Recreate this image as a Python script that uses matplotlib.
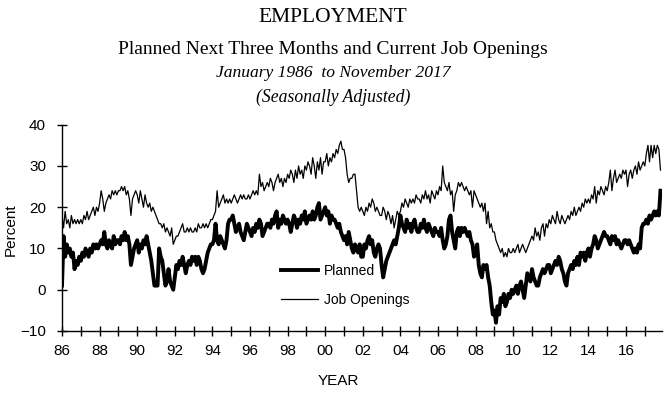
#
# EMPLOYMENT: planned hiring next three months and current job openings,
# monthly, January 1986 to November 2017 (seasonally adjusted).
#

import matplotlib
matplotlib.use('Agg')
import matplotlib.pyplot as plt
import numpy as np
import pandas as pd


#######################################################################

# Monthly values (percent), one row per year.

planned_rows = [
    [1, 13, 8, 11, 9, 10, 8, 9, 5, 7, 6, 8],             # 1986
    [7, 9, 8, 10, 9, 8, 10, 9, 11, 10, 11, 10],          # 1987
    [11, 12, 11, 14, 11, 10, 12, 11, 10, 13, 11, 12],    # 1988
    [12, 11, 13, 12, 14, 12, 13, 11, 6, 8, 10, 11],      # 1989
    [12, 9, 11, 10, 12, 11, 13, 11, 9, 7, 4, 1],         # 1990
    [1, 1, 10, 8, 7, 4, 1, 2, 5, 2, 1, 0],               # 1991
    [3, 6, 5, 7, 6, 8, 6, 4, 6, 7, 6, 8],                # 1992
    [7, 8, 6, 8, 7, 5, 4, 5, 7, 9, 10, 11],              # 1993
    [11, 12, 16, 12, 11, 13, 12, 11, 10, 12, 16, 17],    # 1994
    [17, 18, 16, 14, 15, 16, 14, 13, 12, 14, 16, 15],    # 1995
    [14, 13, 15, 14, 16, 15, 17, 16, 13, 14, 15, 16],    # 1996
    [16, 15, 17, 16, 18, 19, 15, 17, 16, 18, 17, 16],    # 1997
    [17, 16, 14, 16, 18, 17, 15, 17, 16, 18, 17, 19],    # 1998
    [16, 17, 18, 17, 19, 17, 18, 20, 21, 17, 18, 19],    # 1999
    [20, 18, 19, 16, 18, 17, 17, 16, 15, 16, 14, 13],    # 2000
    [12, 13, 11, 14, 12, 10, 9, 11, 10, 9, 11, 8],       # 2001
    [8, 11, 10, 12, 13, 11, 12, 9, 8, 10, 11, 10],       # 2002
    [6, 3, 5, 7, 8, 9, 10, 11, 12, 11, 13, 15],          # 2003
    [18, 16, 15, 14, 17, 15, 16, 14, 16, 17, 15, 14],    # 2004
    [14, 16, 15, 17, 15, 14, 16, 15, 14, 13, 15, 14],    # 2005
    [14, 13, 15, 12, 10, 11, 13, 17, 18, 14, 12, 10],    # 2006
    [14, 15, 13, 15, 14, 15, 14, 13, 14, 12, 11, 8],     # 2007
    [9, 11, 6, 4, 3, 6, 5, 6, 3, 1, -3, -6],             # 2008
    [-5, -8, -4, -6, -2, -3, -1, -4, -3, -1, -2, 0],     # 2009
    [-1, 0, 1, -1, 1, 2, 0, -2, 1, 4, 3, 2],             # 2010
    [5, 3, 2, 1, 1, 3, 4, 5, 4, 5, 6, 6],                # 2011
    [4, 5, 6, 7, 6, 8, 7, 5, 4, 2, 1, 4],                # 2012
    [5, 6, 5, 7, 6, 8, 6, 9, 8, 9, 7, 9],                # 2013
    [10, 8, 10, 11, 13, 12, 10, 11, 12, 13, 14, 13],     # 2014
    [13, 12, 11, 13, 12, 13, 11, 12, 11, 10, 11, 12],    # 2015
    [12, 11, 12, 11, 10, 9, 10, 9, 11, 10, 15, 16],      # 2016
    [16, 17, 16, 18, 17, 18, 19, 18, 19, 18, 24],        # 2017 (to Nov)
]

openings_rows = [
    [18, 15, 19, 16, 17, 15, 18, 16, 17, 16, 17, 16],    # 1986
    [17, 16, 18, 17, 19, 17, 18, 19, 20, 18, 20, 19],    # 1987
    [21, 24, 22, 19, 21, 22, 23, 22, 24, 23, 24, 23],    # 1988
    [24, 24, 25, 24, 25, 23, 24, 22, 18, 22, 23, 24],    # 1989
    [23, 21, 24, 22, 20, 23, 21, 20, 21, 19, 20, 19],    # 1990
    [18, 17, 16, 16, 15, 16, 14, 15, 14, 13, 15, 11],    # 1991
    [12, 13, 13, 14, 15, 16, 14, 14, 15, 14, 15, 14],    # 1992
    [14, 15, 14, 16, 15, 15, 16, 15, 16, 15, 16, 17],    # 1993
    [17, 18, 19, 24, 20, 21, 22, 23, 21, 22, 21, 22],    # 1994
    [21, 22, 23, 22, 21, 22, 23, 22, 23, 22, 22, 23],    # 1995
    [22, 23, 24, 23, 24, 23, 28, 25, 26, 24, 25, 26],    # 1996
    [25, 27, 26, 24, 26, 27, 28, 26, 27, 25, 27, 26],    # 1997
    [28, 27, 29, 28, 26, 29, 27, 30, 28, 29, 27, 30],    # 1998
    [29, 31, 30, 28, 32, 30, 27, 31, 29, 32, 28, 31],    # 1999
    [31, 33, 30, 32, 31, 33, 32, 34, 33, 35, 36, 34],    # 2000
    [34, 32, 28, 26, 27, 27, 28, 28, 24, 20, 19, 20],    # 2001
    [19, 18, 20, 19, 21, 20, 22, 21, 19, 20, 19, 18],    # 2002
    [18, 20, 19, 17, 19, 18, 16, 18, 15, 17, 19, 18],    # 2003
    [19, 21, 20, 22, 21, 20, 22, 21, 22, 21, 23, 22],    # 2004
    [22, 21, 23, 22, 24, 22, 23, 21, 24, 23, 22, 24],    # 2005
    [23, 25, 24, 30, 26, 25, 24, 26, 23, 24, 19, 23],    # 2006
    [24, 26, 25, 26, 25, 24, 25, 24, 23, 24, 20, 24],    # 2007
    [23, 22, 21, 20, 21, 19, 21, 16, 19, 15, 16, 14],    # 2008
    [14, 12, 11, 10, 9, 10, 8, 9, 8, 10, 9, 9],          # 2009
    [10, 9, 10, 11, 9, 10, 11, 10, 9, 10, 11, 12],       # 2010
    [13, 12, 15, 13, 14, 12, 15, 16, 13, 16, 15, 17],    # 2011
    [16, 18, 17, 16, 19, 17, 16, 18, 17, 16, 17, 18],    # 2012
    [17, 19, 18, 20, 18, 19, 20, 19, 21, 20, 22, 21],    # 2013
    [22, 21, 23, 22, 25, 21, 24, 23, 25, 24, 23, 25],    # 2014
    [24, 26, 29, 24, 27, 29, 26, 27, 28, 27, 29, 28],    # 2015
    [29, 25, 28, 29, 27, 29, 30, 28, 31, 29, 30, 31],    # 2016
    [30, 33, 35, 31, 35, 32, 35, 33, 35, 34, 29],        # 2017 (to Nov)
]

year_ticks = list(range(1986, 2018))
year_labels = ['86', '88', '90', '92', '94', '96', '98', '00',
               '02', '04', '06', '08', '10', '12', '14', '16']


#######################################################################

planned = np.concatenate([np.array(r, dtype=float) for r in planned_rows])
openings = np.concatenate([np.array(r, dtype=float) for r in openings_rows])

# Decimal year for each month.
dates = pd.date_range('1986-01-01', '2017-11-01', freq='MS')
t = dates.year + (dates.month - 1) / 12.0

serif = ['Liberation Serif', 'DejaVu Serif']
sans = ['Liberation Sans', 'DejaVu Sans']
plt.rcParams['font.family'] = sans

fig = plt.figure(figsize=(6.66, 3.93), dpi=100)
ax = fig.add_axes([62 / 666, 1 - 331 / 393, 600 / 666, 206.3 / 393])

ax.plot(t, planned, color='black', lw=2.8, label='Planned',
        solid_joinstyle='round')
ax.plot(t, openings, color='black', lw=0.9, label='Job Openings')

ax.set_xlim(1986, 1986 + 600 / 18.8)
ax.set_ylim(-10, 40)

ax.set_xticks(year_ticks)
ax.set_xticklabels([year_labels[(y - 1986) // 2] if (y - 1986) % 2 == 0
                    else '' for y in year_ticks])
ax.set_yticks([-10, 0, 10, 20, 30, 40])

for s in ['top', 'right']:
    ax.spines[s].set_visible(False)
for s in ['left', 'bottom']:
    ax.spines[s].set_linewidth(1.0)

ax.tick_params(direction='inout', length=7, width=1, labelsize=11,
               colors='black')
ax.tick_params(axis='x', pad=6)
ax.tick_params(axis='y', pad=8)

fig.text(11 / 666, 1 - 230 / 393, 'Percent', ha='center', va='center',
         rotation=90, fontsize=11)
fig.text(338 / 666, 1 - 381 / 393, 'YEAR', ha='center', va='center',
         fontsize=11)

leg = ax.legend(loc='upper left', bbox_to_anchor=((275 - 62) / 600,
                (331 - 258) / 206.3), frameon=False, fontsize=10,
                handlelength=2.7, handletextpad=0.45, labelspacing=1.1,
                borderaxespad=0)

fig.text(333 / 666, 1 - 18 / 393, 'EMPLOYMENT', ha='center', va='center',
         fontsize=15.5, family=serif)
fig.text(333 / 666, 1 - 50 / 393,
         'Planned Next Three Months and Current Job Openings',
         ha='center', va='center', fontsize=14, family=serif)
fig.text(333 / 666, 1 - 73 / 393, 'January 1986  to November 2017',
         ha='center', va='center', fontsize=12.6, family=serif,
         style='italic')
fig.text(333 / 666, 1 - 97 / 393, '(Seasonally Adjusted)',
         ha='center', va='center', fontsize=12.7, family=serif,
         style='italic')

fig.savefig('out.png', dpi=100)
